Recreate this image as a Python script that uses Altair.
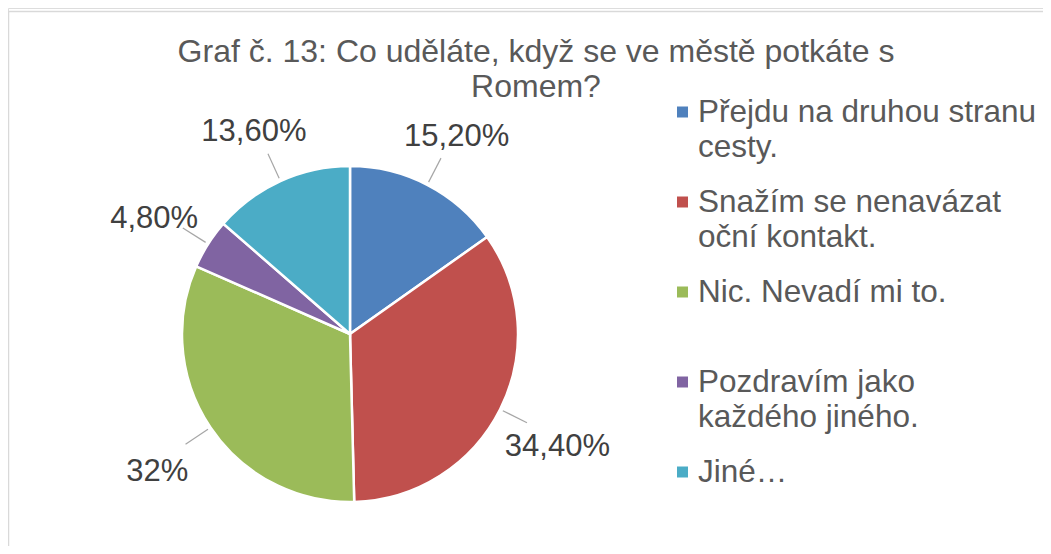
import altair as alt
import pandas as pd

categories = [
    "Přejdu na druhou stranu\ncesty.",
    "Snažím se nenavázat\noční kontakt.",
    "Nic. Nevadí mi to.",
    "Pozdravím jako\nkaždého jiného.",
    "Jiné…",
]
values = [15.2, 34.4, 32.0, 4.8, 13.6]
labels = ["15,20%", "34,40%", "32%", "4,80%", "13,60%"]
colors = ["#4F81BD", "#C0504D", "#9BBB59", "#8064A2", "#4BACC6"]
title_lines = ["Graf č. 13: Co uděláte, když se ve městě potkáte s", "Romem?"]

df = pd.DataFrame({
    "cat": categories,
    "value": values,
    "label": labels,
    "idx": list(range(len(values))),
})
title_df = pd.DataFrame({"t": ["\n".join(title_lines)]})

CX, CY, R = 342, 326, 168
FONT = "Liberation Sans"

color_enc = alt.Color("cat:N", scale=alt.Scale(domain=categories, range=colors), legend=None)

base = alt.Chart(df).encode(
    theta=alt.Theta("value:Q", stack=True),
    order=alt.Order("idx:Q"),
)

pie = base.mark_arc(outerRadius=R, stroke="white", strokeWidth=2.5).encode(
    color=color_enc, x=alt.value(CX), y=alt.value(CY)
)

pct = base.mark_text(radius=232, dy=9, font=FONT, fontSize=31, color="#404040").encode(
    text="label:N", x=alt.value(CX), y=alt.value(CY)
)

leaders = (
    alt.Chart(df)
    .transform_joinaggregate(total="sum(value)")
    .transform_window(cum="sum(value)", sort=[alt.SortField("idx")], frame=[None, 0])
    .transform_calculate(
        mid="(datum.cum - datum.value/2)/datum.total*2*PI",
        lx1=f"{CX}+{R + 3}*sin(datum.mid)",
        ly1=f"{CY}-{R + 3}*cos(datum.mid)",
        lx2=f"{CX}+198*sin(datum.mid)",
        ly2=f"{CY}-198*cos(datum.mid)",
    )
    .mark_rule(color="#A6A6A6", strokeWidth=1.2)
    .encode(
        x=alt.X("lx1:Q", scale=None, axis=None),
        y=alt.Y("ly1:Q", scale=None, axis=None),
        x2="lx2:Q",
        y2="ly2:Q",
    )
)

leg = alt.Chart(df).transform_calculate(ly="104 + datum.idx*90")
sq = leg.mark_square(size=121, opacity=1).encode(
    x=alt.value(674.5),
    y=alt.Y("ly:Q", scale=None, axis=None),
    color=color_enc,
)
txt = leg.mark_text(
    align="left", baseline="alphabetic", dy=10, lineBreak="\n", lineHeight=35,
    fontSize=31.5, font=FONT, color="#595959",
).encode(
    x=alt.value(690),
    y=alt.Y("ly:Q", scale=None, axis=None),
    text="cat:N",
)

title = alt.Chart(title_df).mark_text(
    align="center", baseline="alphabetic", lineBreak="\n", lineHeight=35,
    fontSize=32, font=FONT, color="#595959",
).encode(x=alt.value(528), y=alt.value(54), text="t:N")

frame = alt.Chart(pd.DataFrame({"a": [0]})).mark_rect(
    fill="white", fillOpacity=0, stroke="#D9D9D9", strokeWidth=1.5
).encode(
    x=alt.value(0.5), y=alt.value(3.5), x2=alt.value(1300), y2=alt.value(900)
)

chart = alt.layer(frame, title, pie, leaders, pct, sq, txt).properties(
    width=1035,
    height=538,
    autosize=alt.AutoSizeParams(type="none"),
    padding=0,
).configure_view(stroke=None).configure(background="white")

chart.save("out.html", embed_options={"renderer": "svg", "actions": False})
